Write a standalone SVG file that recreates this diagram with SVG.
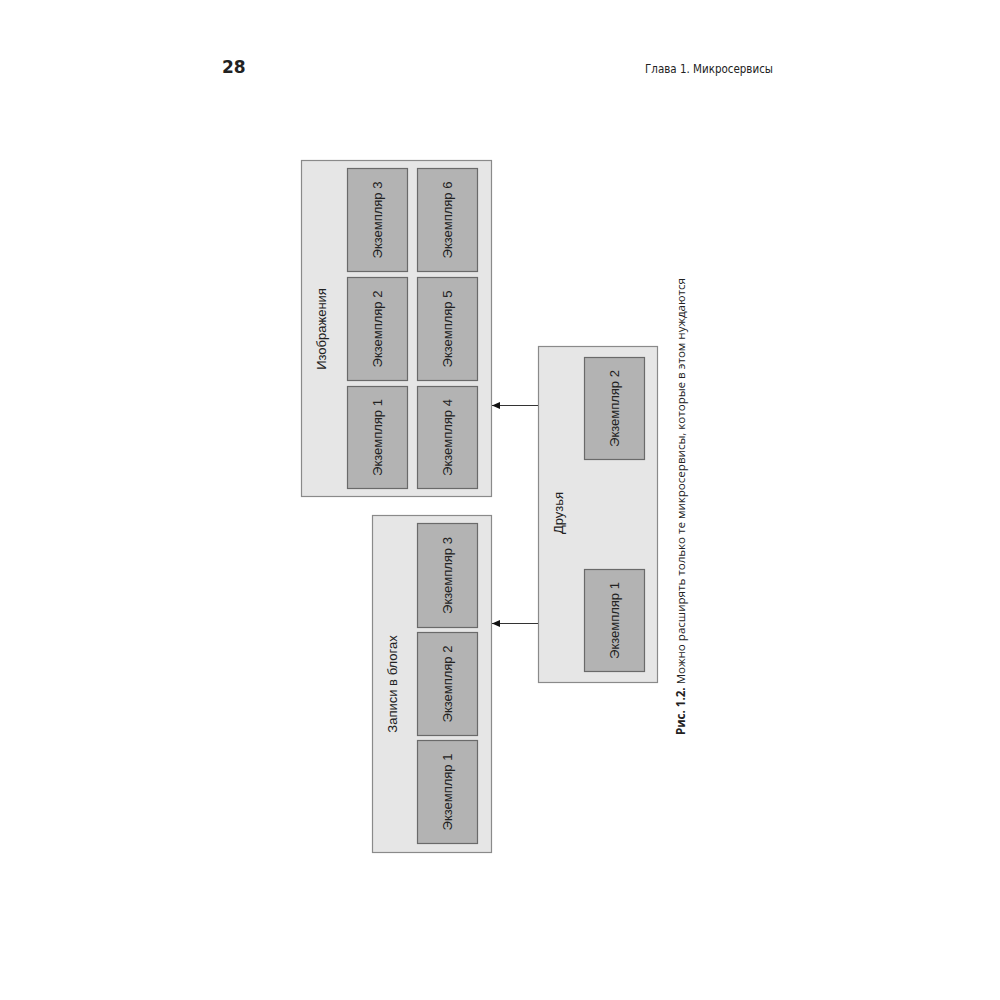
<svg xmlns="http://www.w3.org/2000/svg" width="1000" height="1000" viewBox="0 0 1000 1000">
<style>
.cont{fill:#e6e6e6;stroke:#8a8a8a;stroke-width:1.2}
.inst{fill:#b3b3b3;stroke:#6a6a6a;stroke-width:1.2}
.t{font-family:"Liberation Sans",Arial,sans-serif;font-size:13px;fill:#222;text-anchor:middle}
.conn{stroke:#333;stroke-width:1;fill:none}
</style>
<defs>
<marker id="ah" markerWidth="8" markerHeight="7" refX="8" refY="3.5" orient="auto" markerUnits="userSpaceOnUse">
<path d="M0,0 L8,3.5 L0,7 Z" fill="#111"/>
</marker>
</defs>
<rect width="1000" height="1000" fill="#fff"/>
<g id="header">
<text x="222" y="73" font-family="'DejaVu Sans',Verdana,sans-serif" font-size="17" font-weight="bold" fill="#222">28</text>
<text x="773" y="73" font-family="'DejaVu Sans Condensed','DejaVu Sans',sans-serif" font-size="12" fill="#222" text-anchor="end" textLength="128" lengthAdjust="spacingAndGlyphs">Глава 1. Микросервисы</text>
</g>
<g id="images">
<rect class="cont" x="301.5" y="160.5" width="190" height="336"/>
<text class="t" transform="translate(325.5,329) rotate(-90)">Изображения</text>
<g id="img-inst1"><rect class="inst" x="347.5" y="386.5" width="60" height="102"/><text class="t" transform="translate(381.5,437.5) rotate(-90)">Экземпляр 1</text></g>
<g id="img-inst2"><rect class="inst" x="347.5" y="277.5" width="60" height="103"/><text class="t" transform="translate(381.5,329) rotate(-90)">Экземпляр 2</text></g>
<g id="img-inst3"><rect class="inst" x="347.5" y="168.5" width="60" height="103"/><text class="t" transform="translate(381.5,220) rotate(-90)">Экземпляр 3</text></g>
<g id="img-inst4"><rect class="inst" x="417.5" y="386.5" width="60" height="102"/><text class="t" transform="translate(451.5,437.5) rotate(-90)">Экземпляр 4</text></g>
<g id="img-inst5"><rect class="inst" x="417.5" y="277.5" width="60" height="103"/><text class="t" transform="translate(451.5,329) rotate(-90)">Экземпляр 5</text></g>
<g id="img-inst6"><rect class="inst" x="417.5" y="168.5" width="60" height="103"/><text class="t" transform="translate(451.5,220) rotate(-90)">Экземпляр 6</text></g>
</g>
<g id="blogs">
<rect class="cont" x="372.5" y="515.5" width="119" height="337"/>
<text class="t" transform="translate(396.5,684) rotate(-90)">Записи в блогах</text>
<g id="blog-inst1"><rect class="inst" x="417.5" y="740.5" width="60" height="103"/><text class="t" transform="translate(451.5,792) rotate(-90)">Экземпляр 1</text></g>
<g id="blog-inst2"><rect class="inst" x="417.5" y="632.5" width="60" height="103"/><text class="t" transform="translate(451.5,684) rotate(-90)">Экземпляр 2</text></g>
<g id="blog-inst3"><rect class="inst" x="417.5" y="523.5" width="60" height="104"/><text class="t" transform="translate(451.5,575.5) rotate(-90)">Экземпляр 3</text></g>
</g>
<g id="friends">
<rect class="cont" x="538.5" y="346.5" width="119" height="336"/>
<text class="t" transform="translate(562.5,513) rotate(-90)">Друзья</text>
<g id="fr-inst2"><rect class="inst" x="584.5" y="357.5" width="60" height="102"/><text class="t" transform="translate(618.5,408.5) rotate(-90)">Экземпляр 2</text></g>
<g id="fr-inst1"><rect class="inst" x="584.5" y="569.5" width="60" height="102"/><text class="t" transform="translate(618.5,620.5) rotate(-90)">Экземпляр 1</text></g>
</g>
<g id="connectors">
<line class="conn" x1="538" y1="405.5" x2="492" y2="405.5" marker-end="url(#ah)"/>
<line class="conn" x1="538" y1="623.5" x2="492" y2="623.5" marker-end="url(#ah)"/>
</g>
<g id="caption">
<text transform="translate(685,735) rotate(-90)" font-family="'Open Sans','Noto Sans',sans-serif" font-size="11.5" fill="#222" textLength="457" lengthAdjust="spacingAndGlyphs"><tspan font-weight="bold">Рис. 1.2.</tspan> Можно расширять только те микросервисы, которые в этом нуждаются</text>
</g>
</svg>
